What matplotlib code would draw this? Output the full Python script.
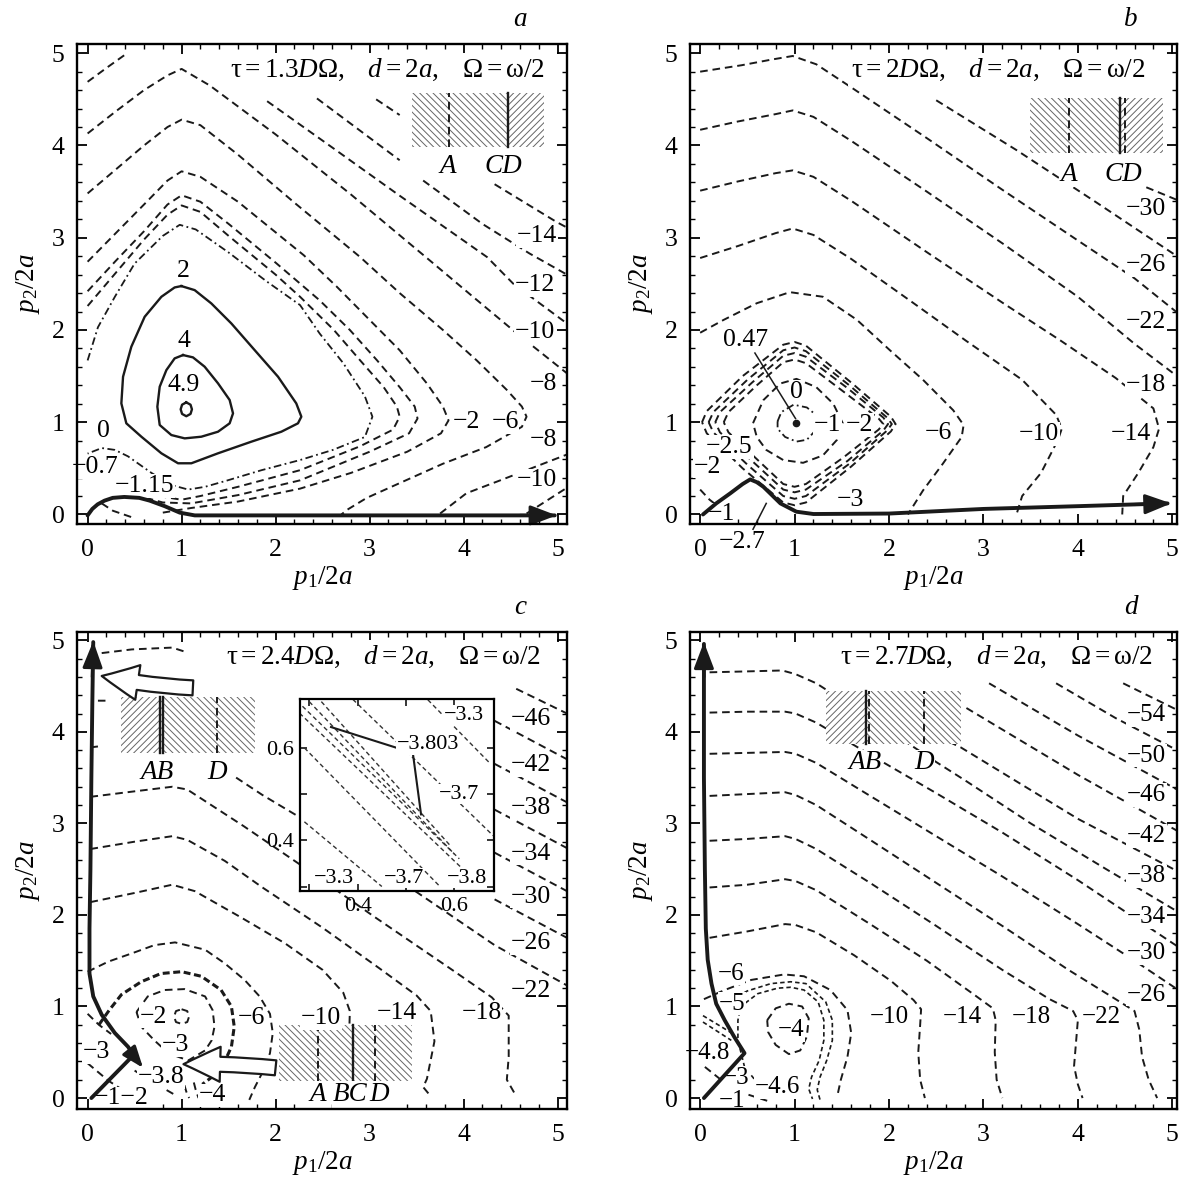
import numpy as np
import matplotlib
matplotlib.use("Agg")
import matplotlib.pyplot as plt
from matplotlib.patches import Rectangle
from matplotlib.ticker import MultipleLocator

plt.rcParams['font.family'] = ['Liberation Serif', 'DejaVu Serif']
plt.rcParams['mathtext.fontset'] = 'custom'
plt.rcParams['mathtext.rm'] = 'Liberation Serif'
plt.rcParams['mathtext.it'] = 'Liberation Serif:italic'
plt.rcParams['mathtext.bf'] = 'Liberation Serif:bold'
plt.rcParams['lines.scale_dashes'] = False
plt.rcParams['hatch.linewidth'] = 0.7

nan = np.nan
INK = '#1a1a1a'

# ---------------- panel a : tau = 1.3 D Omega ----------------
a_c49 = ([1.05, 1.095, 1.11, 1.095, 1.05, 1.005, 0.99, 1.005, 1.05],
         [1.215, 1.19, 1.14, 1.09, 1.065, 1.09, 1.14, 1.19, 1.215])
a_c4 = ([1.015, 1.121, 1.245, 1.387, 1.511, 1.547, 1.511, 1.387, 1.210, 1.033, 0.891, 0.767, 0.742, 0.767, 0.838, 0.926, 1.015],
        [1.728, 1.703, 1.602, 1.422, 1.241, 1.096, 0.988, 0.897, 0.843, 0.825, 0.861, 0.970, 1.168, 1.385, 1.565, 1.692, 1.728])
a_c2 = ([0.997, 1.139, 1.316, 1.529, 1.777, 2.026, 2.220, 2.274, 2.238, 2.061, 1.742, 1.387, 1.104, 0.962, 0.785, 0.572, 0.412, 0.359, 0.377, 0.465, 0.607, 0.785, 0.926, 0.997],
        [2.476, 2.432, 2.288, 2.071, 1.782, 1.493, 1.204, 1.060, 0.988, 0.897, 0.789, 0.663, 0.555, 0.555, 0.663, 0.843, 0.988, 1.204, 1.493, 1.818, 2.143, 2.360, 2.461, 2.476])
a_c0 = ([0.0, 0.11, 0.29, 0.50, 0.80, 0.98, 1.15, 1.5, 1.9, 2.26, 2.47, 2.72, 2.95, 3.03, 2.95, 2.61, 2.26, 1.85, 1.49, 1.25, 1.07, 0.89, 0.68, 0.43, 0.29, 0.15, 0.0],
        [1.67, 2.03, 2.36, 2.72, 3.02, 3.14, 3.09, 2.84, 2.53, 2.27, 1.96, 1.64, 1.28, 1.06, 0.84, 0.70, 0.59, 0.48, 0.37, 0.30, 0.27, 0.32, 0.45, 0.63, 0.70, 0.72, 0.66])
a_m07 = ([0.0, 0.3, 0.6, 0.85, 1.0, 1.2, 1.5, 2.0, 2.26, 2.62, 2.90, 3.15, 3.29, 3.32, 3.25, 2.9, 2.26, 1.6, 1.2, 1.0, 0.75, 0.5, 0.3],
         [2.26, 2.62, 2.98, 3.25, 3.35, 3.28, 3.02, 2.60, 2.36, 2.00, 1.67, 1.38, 1.17, 1.06, 0.92, 0.74, 0.48, 0.30, 0.20, 0.16, 0.20, 0.30, 0.38])
a_m115 = ([0.0, 0.3, 0.6, 0.85, 1.0, 1.2, 1.5, 2.0, 2.47, 2.79, 3.08, 3.32, 3.48, 3.51, 3.42, 3.0, 2.26, 1.6, 1.1, 0.8, 0.55, 0.35],
          [2.42, 2.75, 3.07, 3.36, 3.46, 3.39, 3.15, 2.73, 2.32, 2.00, 1.67, 1.38, 1.17, 1.04, 0.88, 0.68, 0.37, 0.21, 0.12, 0.13, 0.20, 0.28])
a_m2 = ([0.0, 0.3, 0.6, 0.85, 1.0, 1.2, 1.6, 2.30, 2.65, 2.97, 3.32, 3.61, 3.78, 3.84, 3.76, 3.4, 2.8, 2.26, 1.6, 1.1, 0.8],
        [2.74, 3.05, 3.36, 3.62, 3.72, 3.66, 3.39, 2.81, 2.47, 2.14, 1.78, 1.42, 1.17, 1.02, 0.88, 0.68, 0.45, 0.28, 0.14, 0.07, 0.02])
a_m6 = ([0.0, 0.3, 0.6, 0.85, 1.0, 1.2, 1.6, 2.2, 2.90, 3.32, 3.78, 4.14, 4.46, 4.62, 4.67, 4.62, 4.24, 3.78, 3.32, 2.97, 2.76, 2.70],
        [3.48, 3.74, 4.0, 4.2, 4.28, 4.22, 3.90, 3.38, 2.79, 2.40, 2.00, 1.67, 1.35, 1.17, 1.06, 0.95, 0.73, 0.55, 0.34, 0.18, 0.05, 0.0])
a_m8 = ([0.0, 0.3, 0.6, 0.85, 1.0, 1.3, 2.0, 2.8, 3.68, 4.10, 4.57, 5.1],
        [4.13, 4.37, 4.6, 4.76, 4.83, 4.65, 4.12, 3.47, 2.72, 2.36, 1.96, 1.53])
a_m10 = ([0.0, 0.2, 0.42, nan, 1.91, 2.6, 3.3, 4.25, 4.53, 5.1],
         [4.69, 4.84, 5.0, nan, 4.48, 3.98, 3.47, 2.79, 2.50, 2.07])
a_m12 = ([2.44, 3.32, nan, 3.57, 4.2, 4.7, 5.1], [4.51, 3.84, nan, 3.62, 3.15, 2.83, 2.60])
a_m14 = ([3.07, 3.32, nan, 4.33, 4.99, 5.1], [4.50, 4.33, nan, 3.58, 3.17, 3.11])
a_m8_low = ([3.75, 4.03, 4.39, 5.1], [0.01, 0.23, 0.37, 0.65])
a_m10_low = ([4.67, 5.1], [0.01, 0.29])
a_stub = ([0.15, 0.27, 0.47], [0.12, 0.04, -0.03])
a_path = ([0.0, 0.05, 0.107, 0.18, 0.267, 0.39, 0.55, 0.66, 0.82, 0.98, 1.14, 2.0, 3.0, 4.0, 4.97],
          [-0.01, 0.06, 0.11, 0.15, 0.18, 0.19, 0.18, 0.15, 0.09, 0.02, -0.01, -0.01, -0.01, -0.01, -0.01])
a_labels = [("2", 1.02, 2.64), ("4", 1.02, 1.88), ("4.9", 1.02, 1.40), ("0", 0.17, 0.90),
            ("\u22120.7", 0.08, 0.51), ("\u22121.15", 0.61, 0.31), ("\u22122", 4.03, 1.0),
            ("\u22126", 4.44, 1.0), ("\u22128", 4.85, 1.41), ("\u221210", 4.76, 1.98),
            ("\u221212", 4.76, 2.49), ("\u221214", 4.78, 3.02), ("\u22128", 4.85, 0.81),
            ("\u221210", 4.78, 0.37)]

# ---------------- panel b : tau = 2 D Omega ----------------
b_r0 = ([0.82, 0.86, 0.99, 1.13, 1.25, 1.23, 1.13, 1.02, 0.90, 0.82, 0.82],
        [1.01, 1.11, 1.19, 1.16, 1.06, 0.92, 0.81, 0.79, 0.84, 0.93, 1.01])
b_r1 = ([0.56, 0.67, 0.85, 1.02, 1.23, 1.41, 1.51, 1.45, 1.30, 1.09, 0.88, 0.70, 0.60, 0.56],
        [0.99, 1.24, 1.42, 1.47, 1.38, 1.20, 0.99, 0.81, 0.64, 0.56, 0.59, 0.70, 0.84, 0.99])
b_r2 = ([0.25, 0.30, 0.6, 0.88, 1.0, 1.12, 1.52, 1.89, 1.94, 1.89, 1.52, 1.12, 1.0, 0.88, 0.6, 0.30, 0.25],
        [1.0, 1.11, 1.40, 1.65, 1.68, 1.64, 1.33, 1.04, 0.98, 0.92, 0.62, 0.33, 0.30, 0.33, 0.60, 0.89, 1.0])
b_r3 = ([0.16, 0.21, 0.55, 0.88, 1.0, 1.12, 1.56, 1.94, 1.99, 1.94, 1.56, 1.12, 1.0, 0.88, 0.55, 0.21, 0.16],
        [1.0, 1.11, 1.43, 1.72, 1.75, 1.71, 1.37, 1.05, 0.98, 0.91, 0.58, 0.27, 0.24, 0.27, 0.58, 0.89, 1.0])
b_r4 = ([0.09, 0.14, 0.5, 0.88, 1.0, 1.12, 1.58, 1.98, 2.03, 1.98, 1.58, 1.12, 1.0, 0.88, 0.5, 0.14, 0.09],
        [1.0, 1.11, 1.46, 1.78, 1.81, 1.77, 1.40, 1.05, 0.98, 0.91, 0.55, 0.20, 0.17, 0.20, 0.54, 0.89, 1.0])
b_r5 = ([0.02, 0.07, 0.45, 0.88, 1.0, 1.12, 1.6, 2.02, 2.07, 2.02, 1.6, 1.12, 1.0, 0.88, 0.45, 0.07, 0.02],
        [1.0, 1.12, 1.5, 1.84, 1.87, 1.83, 1.43, 1.06, 0.98, 0.90, 0.52, 0.13, 0.10, 0.13, 0.50, 0.88, 1.0])
b_m6 = ([0.0, 0.25, 0.60, 0.95, 1.30, 1.66, 2.01, 2.36, 2.68, 2.79, 2.77, 2.57, 2.36, 2.20],
        [1.97, 2.11, 2.29, 2.41, 2.36, 2.11, 1.78, 1.46, 1.13, 0.97, 0.84, 0.55, 0.26, 0.0])
b_m10 = ([0.0, 0.4, 0.8, 0.98, 1.2, 1.6, 2.22, 2.82, 3.41, 3.77, 3.83, 3.79, 3.61, 3.41, 3.35],
         [2.78, 2.91, 3.05, 3.10, 3.03, 2.77, 2.32, 1.88, 1.46, 1.08, 0.93, 0.81, 0.45, 0.20, 0.0])
b_m14 = ([0.0, 0.4, 0.8, 0.98, 1.2, 1.6, 2.42, 3.21, 3.81, 4.40, 4.80, 4.86, 4.80, 4.64, 4.48, 4.47],
         [3.51, 3.61, 3.70, 3.73, 3.66, 3.40, 2.83, 2.29, 1.89, 1.48, 1.15, 0.93, 0.73, 0.45, 0.20, 0.0])
b_m18 = ([0.0, 0.4, 0.8, 0.98, 1.2, 1.6, 2.4, 3.2, 4.0, 4.6, 5.05],
         [4.17, 4.26, 4.34, 4.38, 4.31, 4.05, 3.50, 2.94, 2.36, 1.85, 1.50])
b_m22 = ([0.0, 0.44, 0.75, 0.98, 1.23, 1.6, 2.4, 3.2, 4.0, 4.6, 5.05],
         [4.80, 4.87, 4.93, 4.97, 4.88, 4.63, 4.08, 3.52, 2.97, 2.56, 2.19])
b_m26 = ([2.5, 3.35, 4.2, 5.05], [4.49, 3.95, 3.38, 2.80])
b_m30 = ([4.48, 5.05], [3.65, 3.41])
b_near0 = ([0.0, 0.1, 0.25], [0.27, 0.16, 0.04])
b_path = ([0.03, 0.17, 0.32, 0.45, 0.53, 0.60, 0.67, 0.85, 1.02, 1.2, 2.0, 3.0, 4.0, 4.95],
          [0.0, 0.12, 0.23, 0.33, 0.38, 0.35, 0.30, 0.12, 0.03, 0.005, 0.01, 0.06, 0.09, 0.12])
b_labels = [("0.47", 0.48, 1.89), ("0", 1.02, 1.33), ("\u22121", 1.35, 0.97), ("\u22122", 1.69, 0.97),
            ("\u22122.5", 0.31, 0.73), ("\u22122", 0.08, 0.52), ("\u22121", 0.23, 0.0),
            ("\u22123", 1.59, 0.16), ("\u22126", 2.52, 0.88), ("\u221210", 3.59, 0.87),
            ("\u221214", 4.56, 0.87), ("\u221218", 4.72, 1.40), ("\u221222", 4.72, 2.09),
            ("\u221226", 4.72, 2.70), ("\u221230", 4.72, 3.31)]

# ---------------- panel c : tau = 2.4 D Omega ----------------
c_m2 = ([1.0, 1.06, 1.08, 1.06, 1.0, 0.94, 0.92, 0.94, 1.0],
        [0.97, 0.95, 0.89, 0.83, 0.81, 0.83, 0.89, 0.95, 0.97])
c_m3 = ([0.52, 0.64, 0.82, 1.03, 1.25, 1.33, 1.35, 1.32, 1.25, 1.07, 0.86, 0.71, 0.57, 0.52],
        [0.94, 1.11, 1.18, 1.19, 1.11, 0.96, 0.78, 0.63, 0.52, 0.41, 0.49, 0.63, 0.78, 0.94])
c_m4 = ([0.12, 0.23, 0.36, 0.57, 0.78, 1.0, 1.21, 1.42, 1.53, 1.56, 1.53, 1.45, 1.35, 1.22],
        [0.80, 0.96, 1.13, 1.27, 1.36, 1.38, 1.33, 1.18, 1.0, 0.78, 0.56, 0.38, 0.25, 0.15])
c_m6 = ([0.0, 0.22, 0.47, 0.71, 0.93, 1.25, 1.46, 1.67, 1.83, 1.94, 1.97, 1.94, 1.87, 1.78, 1.72],
        [1.38, 1.49, 1.58, 1.67, 1.70, 1.62, 1.47, 1.29, 1.11, 0.92, 0.71, 0.49, 0.30, 0.12, -0.02])
c_m10 = ([0.03, 0.5, 0.9, 1.14, 1.62, 2.10, 2.5, 2.72, 2.79, 2.78, 2.75],
         [2.14, 2.24, 2.33, 2.26, 1.98, 1.69, 1.40, 1.15, 0.95, 0.6, 0.0])
c_m14 = ([0.03, 0.5, 0.9, 1.06, 1.46, 1.86, 2.5, 3.1, 3.5, 3.65, 3.69, 3.61, 3.57, 3.65],
         [2.72, 2.80, 2.86, 2.82, 2.59, 2.30, 1.86, 1.42, 1.12, 0.95, 0.62, 0.21, 0.12, 0.02])
c_m18 = ([0.03, 0.5, 0.9, 1.06, 1.3, 1.66, 2.26, 3.05, 3.85, 4.3, 4.48, 4.48, 4.46, 4.56],
         [3.29, 3.35, 3.40, 3.37, 3.21, 2.97, 2.55, 1.98, 1.42, 1.10, 0.90, 0.45, 0.20, 0.02])
c_m22 = ([0.03, 0.11, nan, 1.58, 1.86, 2.3, 3.5, 4.33, 5.1],
         [3.83, 3.84, nan, 3.50, 3.31, 3.04, 2.25, 1.67, 1.23])
c_m26 = ([0.11, 0.19, nan, 4.33, 5.1], [4.34, 4.34, nan, 2.17, 1.75])
c_m30 = ([0.15, 0.47, 0.90, 1.02, nan, 4.33, 5.1], [4.86, 4.90, 4.92, 4.88, nan, 2.68, 2.26])
c_m34 = ([4.33, 5.1], [3.15, 2.73])
c_m38 = ([4.33, 5.1], [3.65, 3.23])
c_m42 = ([4.33, 5.1], [4.12, 3.70])
c_m46 = ([4.56, 5.1], [4.47, 4.20])
c_low1 = ([0.0, 0.22, 0.43], [0.38, 0.19, 0.05])
c_low2 = ([0.0, 0.12, 0.25], [0.92, 0.80, 0.70])
c_low3 = ([0.5, 0.7, 0.92], [0.30, 0.17, 0.04])
c_low4 = ([1.03, 1.05, 1.08], [0.14, 0.07, 0.0])
c_low5 = ([1.13, 1.15, 1.18], [0.17, 0.09, 0.0])
c_path_up = ([0.55, 0.43, 0.29, 0.15, 0.06, 0.02, 0.02, 0.03, 0.04, 0.05, 0.06],
             [0.38, 0.56, 0.71, 0.91, 1.11, 1.36, 1.85, 2.5, 3.5, 4.3, 4.98])
c_path_in = ([0.04, 0.47], [0.0, 0.45])
c_labels = [("\u22122", 0.70, 0.89), ("\u22123", 0.93, 0.58), ("\u22126", 1.74, 0.87),
            ("\u221210", 2.48, 0.87), ("\u221214", 3.29, 0.93), ("\u221218", 4.19, 0.93),
            ("\u22123", 0.09, 0.50), ("\u22123.8", 0.78, 0.225), ("\u22124", 1.33, 0.03),
            ("\u22121\u22122", 0.36, -0.005),
            ("\u221246", 4.72, 4.14), ("\u221242", 4.72, 3.64), ("\u221238", 4.72, 3.17),
            ("\u221234", 4.72, 2.67), ("\u221230", 4.72, 2.20), ("\u221226", 4.72, 1.69),
            ("\u221222", 4.72, 1.17)]
# zoomed window of panel c (p1/2a, p2/2a in 0.28..0.68)
z_l1 = ([0.29, 0.45], [0.44, 0.30])
z_l2 = ([0.29, 0.57], [0.60, 0.30])
z_l3 = ([0.286, 0.61], [0.69, 0.36])
z_l4 = ([0.30, 0.60], [0.70, 0.37])
z_l5 = ([0.325, 0.59], [0.70, 0.39])
z_l6 = ([0.28, 0.62], [0.675, 0.335])
z_l7 = ([0.39, 0.68], [0.705, 0.41])
z_l8 = ([0.545, 0.673], [0.704, 0.567])
z_path = ([0.345, 0.514, 0.531], [0.645, 0.589, 0.456])
z_labels = [("\u22123.3", 0.62, 0.67), ("\u22123.803", 0.545, 0.607), ("\u22123.7", 0.61, 0.50),
            ("\u22123.3", 0.35, 0.318), ("\u22123.7", 0.495, 0.318), ("\u22123.8", 0.625, 0.318)]

# ---------------- panel d : tau = 2.7 D Omega ----------------
d_m4 = ([0.71, 0.80, 0.94, 1.08, 1.15, 1.13, 1.06, 0.94, 0.80, 0.72, 0.71],
        [0.85, 0.98, 1.03, 1.0, 0.87, 0.67, 0.52, 0.48, 0.58, 0.72, 0.85])
d_m46 = ([0.71, 0.61, 0.47, 0.40, 0.40, 0.43, 0.61, 0.82, 0.96, 1.1, 1.25, 1.31, 1.31, 1.26, 1.18, 1.15, 1.19],
         [0.01, 0.16, 0.34, 0.63, 0.85, 1.0, 1.14, 1.20, 1.21, 1.18, 1.05, 0.85, 0.63, 0.41, 0.23, 0.10, -0.01])
d_m5 = ([0.26, 0.5, 0.75, 0.96, 1.12, 1.33, 1.40, 1.40, 1.34, 1.27, 1.24, 1.27],
        [1.03, 1.17, 1.25, 1.27, 1.25, 1.05, 0.85, 0.63, 0.41, 0.23, 0.09, -0.02])
d_m6 = ([0.04, 0.26, 0.54, 0.89, 1.10, 1.38, 1.56, 1.60, 1.56, 1.49, 1.45],
        [1.08, 1.18, 1.29, 1.35, 1.33, 1.18, 0.96, 0.71, 0.45, 0.20, 0.01])
d_m10 = ([0.1, 0.5, 0.9, 1.01, 1.23, 1.63, 2.02, 2.26, 2.34, 2.33, 2.31, 2.33, 2.38],
         [1.75, 1.82, 1.90, 1.89, 1.81, 1.56, 1.28, 1.07, 0.97, 0.8, 0.5, 0.2, 0.0])
d_m14 = ([0.1, 0.5, 0.9, 1.01, 1.23, 1.8, 2.4, 2.9, 3.1, 3.13, 3.12, 3.14, 3.2],
         [2.30, 2.33, 2.39, 2.37, 2.27, 1.90, 1.50, 1.13, 0.98, 0.85, 0.5, 0.2, 0.0])
d_m18 = ([0.1, 0.5, 0.9, 1.01, 1.23, 1.8, 2.5, 3.2, 3.7, 3.95, 4.0, 3.98, 3.96, 4.0, 4.05],
         [2.81, 2.83, 2.86, 2.83, 2.72, 2.35, 1.88, 1.40, 1.08, 0.95, 0.85, 0.6, 0.35, 0.15, 0.0])
d_m22 = ([0.1, 0.5, 0.9, 1.01, 1.23, 1.8, 2.5, 3.2, 3.9, 4.4, 4.6, 4.65, 4.68, 4.75, 4.84],
         [3.30, 3.32, 3.34, 3.31, 3.20, 2.82, 2.35, 1.88, 1.40, 1.08, 0.95, 0.75, 0.45, 0.2, 0.0])
d_m26 = ([0.1, 0.5, 0.9, 1.01, 1.23, 1.8, 2.5, 3.2, 4.0, 4.6, 5.05],
         [3.76, 3.77, 3.78, 3.76, 3.66, 3.30, 2.86, 2.42, 1.90, 1.50, 1.19])
d_m30 = ([0.1, 0.5, 0.9, 1.01, 1.23, 1.8, 2.5, 3.2, 4.0, 5.05],
         [4.21, 4.22, 4.22, 4.20, 4.10, 3.75, 3.33, 2.9, 2.38, 1.66])
d_m34 = ([0.1, 0.5, 0.87, 1.01, 1.23, 1.8, 2.5, 2.82, 3.5, 4.3, 5.05],
         [4.65, 4.66, 4.67, 4.63, 4.53, 4.15, 3.67, 3.46, 3.0, 2.5, 2.04])
d_m38 = ([1.8, 2.76, 4.0, 5.05], [4.30, 3.83, 3.05, 2.48])
d_m42 = ([2.82, 4.0, 5.05], [4.26, 3.53, 2.92])
d_m46b = ([3.06, 4.0, 5.05], [4.53, 3.96, 3.37])
d_m50 = ([3.77, 4.4, 5.05], [4.53, 4.15, 3.80])
d_m54 = ([4.48, 5.05], [4.53, 4.24])
d_h1 = ([0.03, 0.35], [0.90, 0.70])
d_h2 = ([0.03, 0.33], [0.83, 0.63])
d_low1 = ([0.05, 0.22], [0.34, 0.20])
d_low2 = ([0.26, 0.47, 0.71], [0.12, 0.05, -0.03])
d_path = ([0.04, 0.47, 0.36, 0.26, 0.17, 0.12, 0.08, 0.06, 0.05, 0.04, 0.04],
          [0.0, 0.49, 0.67, 0.85, 1.03, 1.25, 1.51, 1.85, 2.5, 3.5, 4.96])
d_labels = [("\u22126", 0.33, 1.36), ("\u22125", 0.34, 1.03), ("\u22124", 0.96, 0.74),
            ("\u22124.8", 0.08, 0.49), ("\u22123", 0.38, 0.22), ("\u22124.6", 0.82, 0.12),
            ("\u22121", 0.34, -0.03), ("\u221210", 2.0, 0.88), ("\u221214", 2.78, 0.88),
            ("\u221218", 3.51, 0.88), ("\u221222", 4.25, 0.88),
            ("\u221254", 4.73, 4.18), ("\u221250", 4.73, 3.74), ("\u221246", 4.73, 3.31),
            ("\u221242", 4.73, 2.86), ("\u221238", 4.73, 2.42), ("\u221234", 4.73, 1.98),
            ("\u221230", 4.73, 1.58), ("\u221226", 4.73, 1.13)]

STY = {
    's': dict(ls='-', lw=1.7),
    'd': dict(ls=(0, (5.5, 3.5)), lw=1.4),
    'dd': dict(ls=(0, (5.5, 2.5, 1.3, 2.5)), lw=1.3),
    'td': dict(ls=(0, (5.0, 2.6)), lw=2.2),
    'fd': dict(ls=(0, (3.2, 2.2)), lw=1.2),
}
FS_TICK, FS_LAB, FS_AX, FS_TITLE = 18.5, 18.5, 19.5, 19.5

fig = plt.figure(figsize=(11.79, 11.86), dpi=100)


def frame(rect, xlim, ylim, letter, title, title_x):
    ax = fig.add_axes(rect)
    ax.set_xlim(*xlim)
    ax.set_ylim(*ylim)
    for axis in (ax.xaxis, ax.yaxis):
        axis.set_major_locator(MultipleLocator(1))
        axis.set_minor_locator(MultipleLocator(0.2))
    ax.tick_params(which='both', direction='in', top=True, right=True, labelsize=FS_TICK)
    ax.tick_params(axis='x', which='both', pad=11)
    ax.tick_params(axis='y', which='both', pad=9)
    ax.tick_params(which='major', length=7, width=1.3)
    ax.tick_params(which='minor', length=3.8, width=1.0)
    for sp in ax.spines.values():
        sp.set_linewidth(1.7)
        sp.set_zorder(10)
    ax.set_xlabel(r'$p_1/2a$', fontsize=FS_AX, labelpad=2)
    ax.set_ylabel(r'$p_2/2a$', fontsize=FS_AX, labelpad=7)
    ax.text(0.905, 1.052, letter, transform=ax.transAxes, fontsize=FS_AX, style='italic',
            ha='center', va='center')
    ax.text(title_x, 4.82, title, ha='right', va='center', fontsize=FS_TITLE, zorder=4,
            bbox=dict(boxstyle='square,pad=0.12', fc='white', ec='none'))
    return ax


def draw_lines(ax, lines, z=2):
    for (xs, ys), st in lines:
        ax.plot(xs, ys, color=INK, zorder=z, **STY[st])


def put_labels(ax, labels, size=FS_LAB):
    for txt, x, y in labels:
        ax.text(x, y, txt, ha='center', va='center', fontsize=size, zorder=4,
                bbox=dict(boxstyle='square,pad=0.03', fc='white', ec='none'))


def tip(ax, frm, to, scale=16):
    ax.annotate('', xy=to, xytext=frm,
                arrowprops=dict(arrowstyle='-|>,head_length=1.0,head_width=0.38', color=INK,
                                lw=2.2, shrinkA=0, shrinkB=0, mutation_scale=scale), zorder=7)


def path(ax, xy):
    ax.plot(xy[0], xy[1], color=INK, lw=2.8, zorder=6, solid_capstyle='round')


def hatched_box(ax, x0, x1, y0, y1, parts, marks):
    ax.add_patch(Rectangle((x0, y0), x1 - x0, y1 - y0, fc='white', ec='none', zorder=3))
    for xa, xb, h in parts:
        ax.add_patch(Rectangle((xa, y0), xb - xa, y1 - y0, fc='none', ec='#666666', lw=0,
                               hatch=h, zorder=3.1))
    for xv, st in marks:
        ax.plot([xv, xv], [y0, y1], color=INK, zorder=3.2, **STY[st])


def tag(ax, txt, x, y):
    ax.text(x, y, txt, ha='center', va='center', fontsize=FS_AX, style='italic', zorder=4,
            bbox=dict(boxstyle='square,pad=0.03', fc='white', ec='none'))


def hollow_arrow(ax, tail, head, rad):
    ax.annotate('', xy=head, xytext=tail,
                arrowprops=dict(arrowstyle='simple,head_length=1.1,head_width=1.05,tail_width=0.45',
                                fc='white', ec=INK, lw=1.6, mutation_scale=24, shrinkA=0, shrinkB=0,
                                connectionstyle='arc3,rad=%g' % rad), zorder=8)


BK = '\\\\\\\\\\'
FW = '/////'
XL = (-0.113, 5.10)
XR = (-0.108, 5.05)
YT = (-0.103, 5.10)
YB = (-0.12, 5.09)
W = 0.4156
H_T, H_B = 0.4047, 0.4022
TTL = r'$\mathrm{\tau} = %sD\Omega,\ \ \ d = 2a,\ \ \ \Omega = \mathrm{\omega}/2$'

# ----- a -----
ax = frame([0.0653, 0.5582, W, H_T], XL, YT, 'a', TTL % '1.3', 4.86)
draw_lines(ax, [(a_c49, 's'), (a_c4, 's'), (a_c2, 's'), (a_c0, 'dd'), (a_m07, 'd'), (a_m115, 'd'),
                (a_m2, 'd'), (a_m6, 'd'), (a_m8, 'd'), (a_m10, 'd'), (a_m12, 'd'), (a_m14, 'd'),
                (a_m8_low, 'd'), (a_m10_low, 'd'), (a_stub, 'd')])
hatched_box(ax, 3.45, 4.86, 3.98, 4.57, [(3.45, 4.47, BK), (4.47, 4.86, FW)], [(3.85, 'd'), (4.47, 's')])
tag(ax, 'A', 3.83, 3.77)
tag(ax, 'CD', 4.42, 3.77)
put_labels(ax, a_labels)
path(ax, a_path)
tip(ax, (4.6, -0.01), (4.99, -0.01))

# ----- b -----
ax = frame([0.5852, 0.5582, 0.4131, H_T], XR, YT, 'b', TTL % '2', 4.72)
draw_lines(ax, [(b_r0, 'dd'), (b_r1, 'd'), (b_r2, 'd'), (b_r3, 'd'), (b_r4, 'd'), (b_r5, 'd'),
                (b_m6, 'd'), (b_m10, 'd'), (b_m14, 'd'), (b_m18, 'd'), (b_m22, 'd'), (b_m26, 'd'),
                (b_m30, 'd'), (b_near0, 'd')])
hatched_box(ax, 3.49, 4.90, 3.92, 4.51, [(3.49, 4.46, BK), (4.46, 4.90, FW)],
            [(3.91, 'd'), (4.45, 's'), (4.50, 'd')])
tag(ax, 'A', 3.90, 3.69)
tag(ax, 'CD', 4.48, 3.69)
put_labels(ax, b_labels)
ax.plot([0.58, 1.01], [1.75, 1.04], color=INK, lw=1.1, zorder=5)
ax.plot([1.02], [0.99], 'o', color=INK, ms=4.5, zorder=5)
ax.plot([0.56, 0.70], [-0.16, 0.12], color=INK, lw=1.1, zorder=5, clip_on=False)
ax.text(0.44, -0.30, "\u22122.7", ha='center', va='center', fontsize=FS_TICK, clip_on=False)
path(ax, b_path)
tip(ax, (4.6, 0.108), (4.99, 0.12))

# ----- c -----
axc = frame([0.0653, 0.0649, W, H_B], XL, YB, 'c', TTL % '2.4', 4.82)
draw_lines(axc, [(c_m2, 'd'), (c_m3, 'd'), (c_m4, 'td'), (c_m6, 'd'), (c_m10, 'd'), (c_m14, 'd'),
                 (c_m18, 'd'), (c_m22, 'd'), (c_m26, 'd'), (c_m30, 'd'), (c_m34, 'd'), (c_m38, 'd'),
                 (c_m42, 'd'), (c_m46, 'd'), (c_low1, 'd'), (c_low2, 'd'), (c_low3, 'd'),
                 (c_low4, 'd'), (c_low5, 'd')])
hatched_box(axc, 0.35, 1.78, 3.77, 4.38, [(0.35, 0.78, FW), (0.78, 1.78, BK)],
            [(0.77, 's'), (0.80, 's'), (1.38, 'd')])
hatched_box(axc, 2.04, 3.45, 0.19, 0.80, [(2.04, 3.45, BK)], [(2.45, 'd'), (2.82, 's'), (3.06, 'd')])
tag(axc, 'AB', 0.74, 3.56)
tag(axc, 'D', 1.38, 3.56)
tag(axc, 'A', 2.45, 0.04)
tag(axc, 'BC', 2.79, 0.04)
tag(axc, 'D', 3.10, 0.04)
put_labels(axc, c_labels)
path(axc, c_path_up)
path(axc, c_path_in)
tip(axc, (0.05, 4.6), (0.06, 4.99))
tip(axc, (0.52, 0.42), (0.59, 0.33), scale=13)
hollow_arrow(axc, (1.12, 4.48), (0.15, 4.61), -0.04)
hollow_arrow(axc, (2.0, 0.33), (1.02, 0.37), 0.03)

fig.canvas.draw()
inv = fig.transFigure.inverted()
(fx0, fy0), (fx1, fy1) = inv.transform(axc.transData.transform([(2.26, 2.26), (4.32, 4.36)]))
axz = fig.add_axes([fx0, fy0, fx1 - fx0, fy1 - fy0])
axz.set_xlim(0.281, 0.681)
axz.set_ylim(0.29, 0.706)
axz.set_xticks([0.3, 0.4, 0.5, 0.6])
axz.set_xticklabels(['', '0.4', '', '0.6'])
axz.set_yticks([0.3, 0.4, 0.5, 0.6])
axz.set_yticklabels(['', '0.4', '', '0.6'])
axz.tick_params(direction='in', top=True, right=True, length=5, width=1.1, labelsize=16, pad=4)
for sp in axz.spines.values():
    sp.set_linewidth(1.6)
for (xs, ys) in [z_l1, z_l2, z_l3, z_l4, z_l5, z_l6, z_l7, z_l8]:
    axz.plot(xs, ys, color='#333333', ls=(0, (3.2, 2.2)), lw=1.0)
axz.plot(z_path[0], z_path[1], color=INK, lw=1.5)
for txt, x, y in z_labels:
    axz.text(x, y, txt, ha='center', va='center', fontsize=16,
             bbox=dict(boxstyle='square,pad=0.03', fc='white', ec='none'))

# ----- d -----
ax = frame([0.5852, 0.0649, 0.4131, H_B], XR, YB, 'd', TTL % '2.7', 4.80)
draw_lines(ax, [(d_m4, 'd'), (d_m46, 'fd'), (d_m5, 'fd'), (d_m6, 'd'), (d_m10, 'd'), (d_m14, 'd'),
                (d_m18, 'd'), (d_m22, 'd'), (d_m26, 'd'), (d_m30, 'd'), (d_m34, 'd'), (d_m38, 'd'),
                (d_m42, 'd'), (d_m46b, 'd'), (d_m50, 'd'), (d_m54, 'd'), (d_h1, 'fd'), (d_h2, 'fd'),
                (d_low1, 'd'), (d_low2, 'd')])
hatched_box(ax, 1.33, 2.76, 3.87, 4.45, [(1.33, 1.77, FW), (1.77, 2.76, BK)],
            [(1.76, 's'), (1.79, 'd'), (2.37, 'd')])
tag(ax, 'AB', 1.75, 3.66)
tag(ax, 'D', 2.37, 3.66)
put_labels(ax, d_labels, size=18)
path(ax, d_path)
tip(ax, (0.04, 4.6), (0.04, 4.98))

fig.savefig('out.png', dpi=100)
